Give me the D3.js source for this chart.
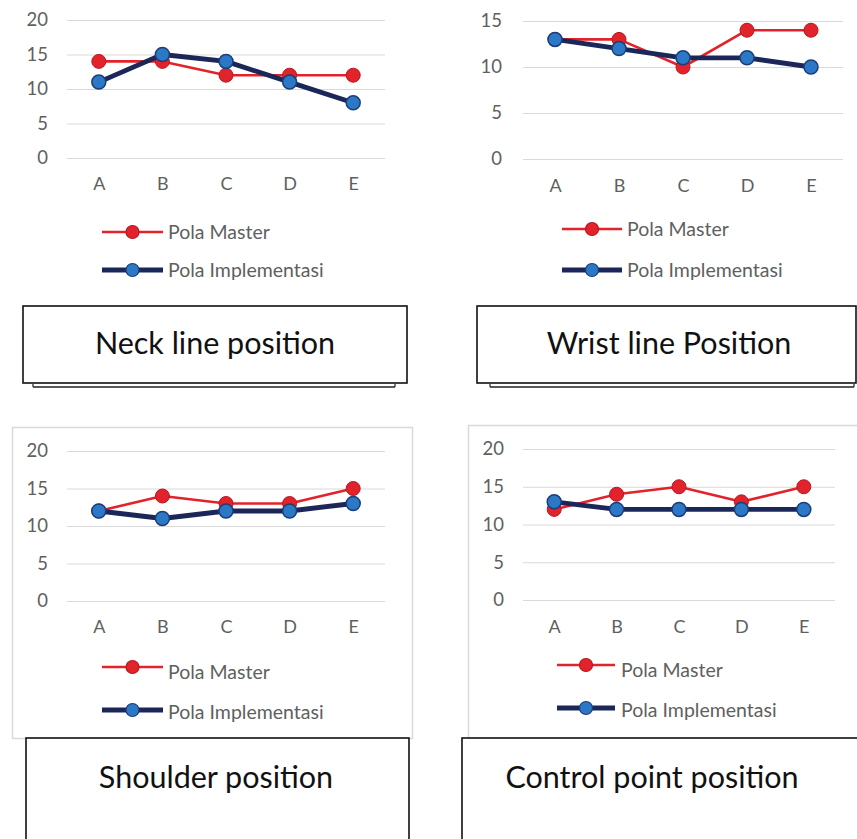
<!DOCTYPE html>
<html>
<head>
<meta charset="utf-8">
<script src="https://cdnjs.cloudflare.com/ajax/libs/d3/7.8.5/d3.min.js"></script>
<style>
  html, body { margin: 0; padding: 0; background: #fff; }
  svg { display: block; }
  text { font-family: Lato, "Open Sans", sans-serif; }
</style>
</head>
<body>
<svg id="chart" width="857" height="839"></svg>
<script>
// ---------- DATA ----------
const categories = ["A", "B", "C", "D", "E"];
const seriesNames = ["Pola Master", "Pola Implementasi"];

const neckMaster = [14, 14, 12, 12, 12];
const neckImpl   = [11, 15, 14, 11, 8];

const wristMaster = [13, 13, 10, 14, 14];
const wristImpl   = [13, 12, 11, 11, 10];

const shoulderMaster = [12, 14, 13, 13, 15];
const shoulderImpl   = [12, 11, 12, 12, 13];

const controlMaster = [12, 14, 15, 13, 15];
const controlImpl   = [13, 12, 12, 12, 12];

const ticks20 = [0, 5, 10, 15, 20];
const ticks15 = [0, 5, 10, 15];

const panelTitles = ["Neck line position", "Wrist line Position", "Shoulder position", "Control point position"];

// ---------- LAYOUT (positions/styles only) ----------
const panels = [
  { master: neckMaster, impl: neckImpl, ticks: ticks20, title: panelTitles[0],
    gx: [67, 385], gy: [158, 20], labelRight: 48, xLabelY: 191,
    legX: [102, 163], legY: [232, 270], legTextX: 168,
    box: [23, 306, 384, 77], under: [33, 395, 387], frame: null },
  { master: wristMaster, impl: wristImpl, ticks: ticks15, title: panelTitles[1],
    gx: [523, 843], gy: [159, 21], labelRight: 502, xLabelY: 193,
    legX: [562, 622], legY: [229, 270], legTextX: 627,
    box: [477, 306, 379, 77], under: [490, 854, 387], frame: null },
  { master: shoulderMaster, impl: shoulderImpl, ticks: ticks20, title: panelTitles[2],
    gx: [67, 385], gy: [601, 451], labelRight: 48, xLabelY: 634,
    legX: [102, 163], legY: [667, 710], legTextX: 168, legTextDy: 5,
    box: [26, 738, 383, 110], under: null, frame: [12, 427, 400, 311] },
  { master: controlMaster, impl: controlImpl, ticks: ticks20, title: panelTitles[3],
    gx: [523, 835], gy: [600, 449], labelRight: 504, xLabelY: 634,
    legX: [557, 615], legY: [665, 708], legTextX: 621, legTextDy: 5,
    box: [462, 738, 400, 110], under: null, frame: [468, 425, 395, 313] }
];

const RED = "#e2232b", RED_DARK = "#b81720";
const NAVY = "#1c2759", BLUE = "#2b78c6", BLUE_STROKE = "#1d3d78";

const svg = d3.select("#chart");

panels.forEach(p => {
  const g = svg.append("g");

  if (p.frame) {
    g.append("rect")
      .attr("x", p.frame[0] + 0.5).attr("y", p.frame[1] + 0.5)
      .attr("width", p.frame[2]).attr("height", p.frame[3])
      .attr("fill", "#fff").attr("stroke", "#d9d9d9").attr("stroke-width", 1.5);
  }

  const x = d3.scalePoint().domain(categories).range(p.gx).padding(0.5);
  const y = d3.scaleLinear().domain([0, d3.max(p.ticks)]).range(p.gy);

  // gridlines via axis
  const yAxis = d3.axisLeft(y).tickValues(p.ticks).tickSize(-(p.gx[1] - p.gx[0])).tickPadding(p.gx[0] - p.labelRight);
  const ya = g.append("g").attr("transform", `translate(${p.gx[0]},0)`).call(yAxis);
  ya.select(".domain").remove();
  ya.selectAll(".tick line").attr("stroke", "#d9d9d9").attr("stroke-width", 1.2);
  ya.selectAll(".tick text").attr("fill", "#5f5f5f").attr("font-size", 18.5).attr("font-family", "Lato, sans-serif");

  // x labels via axis
  const xAxis = d3.axisBottom(x).tickSize(0).tickPadding(0);
  const xa = g.append("g").attr("transform", `translate(0,${p.xLabelY - 14})`).call(xAxis);
  xa.select(".domain").remove();
  xa.selectAll(".tick text").attr("fill", "#5f5f5f").attr("font-size", 18).attr("font-family", "Lato, sans-serif");

  const line = d3.line().x((d, i) => x(categories[i])).y(d => y(d));

  // master series
  g.append("path").datum(p.master).attr("d", line)
    .attr("fill", "none").attr("stroke", RED).attr("stroke-width", 2.6).attr("stroke-linejoin", "round");
  g.selectAll(".mm").data(p.master).join("circle")
    .attr("cx", (d, i) => x(categories[i])).attr("cy", d => y(d)).attr("r", 7)
    .attr("fill", RED).attr("stroke", RED_DARK).attr("stroke-width", 1);

  // implementation series
  g.append("path").datum(p.impl).attr("d", line)
    .attr("fill", "none").attr("stroke", NAVY).attr("stroke-width", 4.8).attr("stroke-linejoin", "round");
  g.selectAll(".im").data(p.impl).join("circle")
    .attr("cx", (d, i) => x(categories[i])).attr("cy", d => y(d)).attr("r", 7)
    .attr("fill", BLUE).attr("stroke", BLUE_STROKE).attr("stroke-width", 1.5);

  // legend
  const legStyles = [
    { stroke: RED, sw: 2.6, fill: RED, mstroke: RED_DARK },
    { stroke: NAVY, sw: 4.8, fill: BLUE, mstroke: BLUE_STROKE }
  ];
  seriesNames.forEach((name, k) => {
    const s = legStyles[k];
    const ly = p.legY[k];
    g.append("line").attr("x1", p.legX[0]).attr("x2", p.legX[1]).attr("y1", ly).attr("y2", ly)
      .attr("stroke", s.stroke).attr("stroke-width", s.sw);
    g.append("circle").attr("cx", (p.legX[0] + p.legX[1]) / 2).attr("cy", ly).attr("r", 6.5)
      .attr("fill", s.fill).attr("stroke", s.mstroke).attr("stroke-width", 1.2);
    g.append("text").attr("x", p.legTextX).attr("y", ly + (k === 0 && p.legTextDy ? p.legTextDy : (p.legTextDy ? 2 : 0)))
      .attr("dy", "0.35em").attr("fill", "#5f5f5f").attr("font-size", 19.5).text(name);
  });

  // title box
  const b = p.box;
  g.append("rect").attr("x", b[0]).attr("y", b[1]).attr("width", b[2]).attr("height", b[3])
    .attr("fill", "#fff").attr("stroke", "#111").attr("stroke-width", 1.6);
  if (p.under) {
    const u = p.under;
    g.append("line").attr("x1", u[0]).attr("x2", u[1]).attr("y1", u[2]).attr("y2", u[2])
      .attr("stroke", "#222").attr("stroke-width", 1.5);
    [u[0], u[1]].forEach(xx => g.append("line").attr("x1", xx).attr("x2", xx)
      .attr("y1", u[2] - 3).attr("y2", u[2]).attr("stroke", "#222").attr("stroke-width", 1.2));
  }
  const ty = p.under ? b[1] + 37 : b[1] + 39;
  g.append("text").attr("x", b[0] + (p.under ? 192 : 190)).attr("y", ty).attr("dy", "0.35em")
    .attr("text-anchor", "middle").attr("fill", "#111").attr("font-size", 30.5)
    .attr("font-family", "Lato, sans-serif").text(p.title);
});
</script>
</body>
</html>
